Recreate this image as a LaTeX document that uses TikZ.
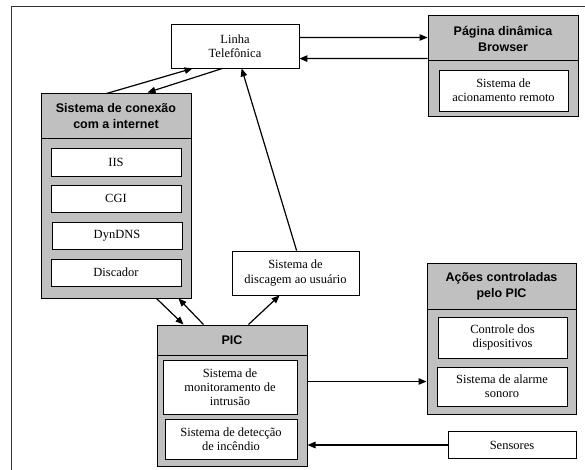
\documentclass[tikz,border=0pt]{standalone}
\usepackage{fontspec}
\setmainfont{Liberation Serif}
\newfontfamily\hdrfont{Liberation Sans}
\usetikzlibrary{arrows.meta}
\definecolor{grp}{RGB}{192,192,192}
\tikzset{
  wbox/.style={draw=black, line width=0.8pt, fill=white, align=center, inner sep=1pt,
    font=\fontsize{12.5}{14.2}\selectfont},
  hdr/.style={draw=black, line width=1pt, fill=grp, align=center, inner sep=1pt,
    font=\hdrfont\bfseries\fontsize{12.5}{16}\selectfont},
  body/.style={draw=black, line width=1pt, fill=grp, inner sep=0pt},
  conn/.style={line width=1.2pt, -{Triangle[length=8pt,width=6.5pt]}},
}
\begin{document}
\begin{tikzpicture}[x=1pt,y=-1pt]
\useasboundingbox (0,0) rectangle (585,470);
\draw[line width=1pt, black!80] (11,470) -- (11,7) -- (585,7);

% Linha Telefonica
\node[wbox, minimum width=128pt, minimum height=44pt] (linha) at (235,46) {Linha\\Telefônica};

% Pagina dinamica
\node[body, minimum width=150pt, minimum height=56pt] (pagb) at (503,89) {};
\node[hdr, minimum width=150pt, minimum height=45pt] (pagh) at (503,38.5) {Página dinâmica\\Browser};
\node[wbox, minimum width=129pt, minimum height=41pt] (acion) at (503.5,90.5) {Sistema de\\acionamento remoto};

% Sistema de conexao
\node[body, minimum width=150pt, minimum height=159pt] (conb) at (116,218.5) {};
\node[hdr, minimum width=150pt, minimum height=45pt] (conh) at (116,116.5) {Sistema de conexão\\com a internet};
\node[wbox, minimum width=130pt, minimum height=28pt] (iis) at (116,162) {IIS};
\node[wbox, minimum width=130pt, minimum height=27pt] (cgi) at (116,198.5) {CGI};
\node[wbox, minimum width=130pt, minimum height=27pt] (dyn) at (117,235.5) {DynDNS};
\node[wbox, minimum width=130pt, minimum height=27pt] (disc) at (116,272.5) {Discador};

% Sistema de discagem
\node[wbox, minimum width=127pt, minimum height=44pt] (discag) at (295.5,273) {Sistema de\\discagem ao usuário};

% PIC
\node[body, minimum width=150pt, minimum height=111pt] (picb) at (232,410.5) {};
\node[hdr, minimum width=150pt, minimum height=30pt] (pich) at (232,340) {PIC};
\node[wbox, minimum width=134pt, minimum height=54pt] (monit) at (230,387) {Sistema de\\monitoramento de\\intrusão};
\node[wbox, minimum width=132pt, minimum height=40pt] (detec) at (231,439) {Sistema de detecção\\de incêndio};

% Acoes controladas
\node[body, minimum width=149pt, minimum height=105pt] (acob) at (501.5,361.5) {};
\node[hdr, minimum width=149pt, minimum height=46pt] (acoh) at (501.5,286) {Ações controladas\\pelo PIC};
\node[wbox, minimum width=129pt, minimum height=41pt] (ctrl) at (502.5,337.5) {Controle dos\\dispositivos};
\node[wbox, minimum width=130pt, minimum height=39pt] (alarm) at (502,386.5) {Sistema de alarme\\sonoro};

% Sensores
\node[wbox, minimum width=128pt, minimum height=27pt] (sens) at (512,445) {Sensores};

% Connectors
\draw[conn] ([xshift=66pt]conh.north west) -- ([xshift=22pt]linha.south west);
\draw[conn] ([xshift=52pt]linha.south west) -- ([xshift=107pt,yshift=1pt]conh.north west);
\draw[conn] ([yshift=-14pt]linha.north east) -- ([yshift=-22pt]pagh.north west);
\draw[conn] ([yshift=-43pt]pagh.north west) -- ([yshift=-35pt]linha.north east);
\draw[conn] ([xshift=65pt]discag.north west) -- ([xshift=71pt]linha.south west);
\draw[conn] ([xshift=116pt]conb.south west) -- ([xshift=27pt]pich.north west);
\draw[conn] ([xshift=47pt]pich.north west) -- ([xshift=138pt]conb.south west);
\draw[conn] ([xshift=92pt]pich.north west) -- ([xshift=48pt]discag.south west);
\draw[conn] ([yshift=-27pt]picb.north east) -- ([yshift=-73pt]acob.north west);
\draw[conn] (sens.west) -- (sens.west -| picb.east);
\end{tikzpicture}
\end{document}
